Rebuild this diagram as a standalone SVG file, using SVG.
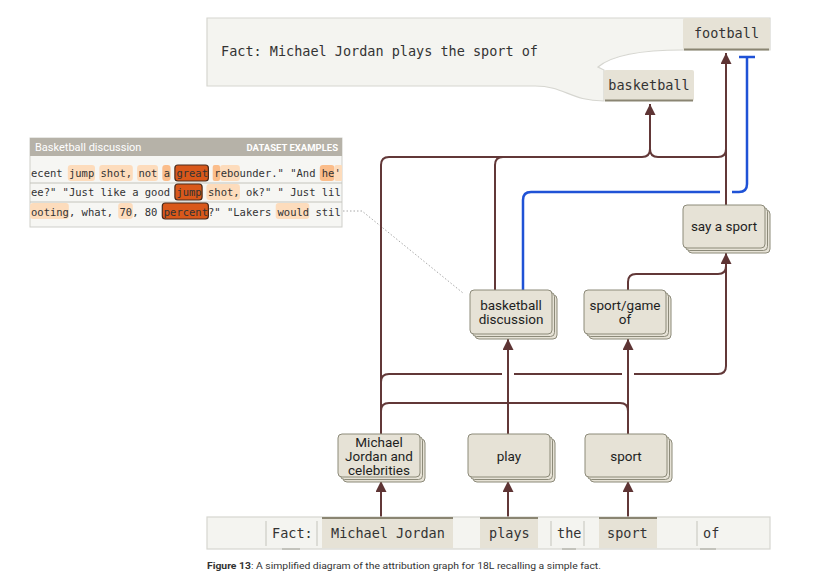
<svg xmlns="http://www.w3.org/2000/svg" width="813" height="577" viewBox="0 0 813 577">
<defs>
<marker id="arr" markerUnits="userSpaceOnUse" markerWidth="11" markerHeight="11" viewBox="0 0 10 10" refX="10" refY="5" orient="auto"><path d="M0,0 L10,5 L0,10 z" fill="#5e3434"/></marker>
<clipPath id="dsclip"><rect x="30" y="156" width="312" height="70"/></clipPath>
</defs>
<style>
.conn{fill:none;stroke:#623838;stroke-width:2}
.blue{fill:none;stroke:#1f52d6;stroke-width:2.5}
.card{fill:#e6e2d6;stroke:#8c8a79;stroke-width:1}
.lbl{font-family:Roboto,"Liberation Sans",sans-serif;font-size:13.5px;fill:#1e1e1e;text-anchor:middle}
.mono{font-family:"DejaVu Sans Mono","Liberation Mono",monospace;font-size:13.5px;fill:#333}
.ds{font-family:"DejaVu Sans Mono","Liberation Mono",monospace;font-size:10.5px;fill:#333}
.tab{fill:#e6e2d6}
.tabline{stroke:#8a8572;stroke-width:2}
.lt{fill:#fddcbc}
.md{fill:#fbbd8a}
.dk{fill:#d9581a;stroke:#4a2a1a;stroke-width:1.2}
.sep{stroke:#c4c4bc;stroke-width:1}
</style>

<!-- Top fact box -->
<g id="fact-output">
<path d="M207,18 H770 V50 H683 C640,50 612,55 598,67 L604,70 V101 C570,101 565,86 535,86 H207 Z" fill="#f4f4f0" stroke="#d6d6d0" stroke-width="1.2"/>
<text class="mono" x="221" y="56">Fact: Michael Jordan plays the sport of</text>
<rect class="tab" x="683" y="18" width="87" height="32" rx="2"/>
<line class="tabline" x1="684" y1="49.5" x2="769" y2="49.5"/>
<text class="mono" x="726.5" y="38" text-anchor="middle">football</text>
<rect class="tab" x="604" y="70" width="90" height="31" rx="2"/>
<line class="tabline" x1="605" y1="100.5" x2="693" y2="100.5"/>
<text class="mono" x="649" y="90" text-anchor="middle">basketball</text>
</g>

<!-- Dataset examples panel -->
<g id="dataset-examples">
<rect x="30" y="138" width="312" height="89" fill="#f6f6f3" stroke="#cfcfca" stroke-width="1"/>
<rect x="30" y="138" width="312" height="18" fill="#b6b2a8"/>
<text x="35" y="151" font-family="Roboto,'Liberation Sans',sans-serif" font-size="11" fill="#ffffff">Basketball discussion</text>
<text x="338" y="151" font-family="Roboto,'Liberation Sans',sans-serif" font-size="9.5" font-weight="bold" fill="#ffffff" text-anchor="end">DATASET EXAMPLES</text>
<line class="sep" x1="30" y1="183" x2="342" y2="183"/>
<line class="sep" x1="30" y1="202" x2="342" y2="202"/>
<g clip-path="url(#dsclip)">
<rect class="lt" x="67.8" y="165" width="27.2" height="16" rx="3"/>
<rect class="lt" x="99.3" y="165" width="33.5" height="16" rx="3"/>
<rect class="lt" x="137.1" y="165" width="20.9" height="16" rx="3"/>
<rect class="md" x="162.3" y="165" width="8.3" height="16" rx="3"/>
<rect class="dk" x="174.9" y="165" width="33.5" height="16" rx="3"/>
<rect class="md" x="212.7" y="165" width="7.3" height="16" rx="2"/>
<rect class="lt" x="220" y="165" width="19.9" height="16" rx="3"/>
<rect class="md" x="319.8" y="165" width="14.6" height="16" rx="3"/>
<rect class="lt" x="334.4" y="165" width="8" height="16" rx="2"/>
<text class="ds" x="31" y="177">ecent jump shot, not a great rebounder." "And he'</text>
<rect class="dk" x="174.9" y="184" width="27.2" height="16" rx="3"/>
<rect class="lt" x="206.4" y="184" width="33.5" height="16" rx="3"/>
<text class="ds" x="31" y="196">ee?" "Just like a good jump shot, ok?" " Just lil</text>
<rect class="lt" x="30" y="203" width="38.8" height="16" rx="3"/>
<rect class="lt" x="118.2" y="203" width="14.6" height="16" rx="3"/>
<rect class="dk" x="162.3" y="203" width="46.1" height="16" rx="3"/>
<rect class="lt" x="275.7" y="203" width="33.5" height="16" rx="3"/>
<text class="ds" x="31" y="215.5">ooting, what, 70, 80 percent?" "Lakers would stil</text>
</g>
</g>

<!-- Connectors -->
<g id="connectors">
<path d="M343,211 H362 L463,293" fill="none" stroke="#a8a8a8" stroke-width="1" stroke-dasharray="1.5,2"/>
<path class="conn" d="M381,517 V481" marker-end="url(#arr)"/>
<path class="conn" d="M508,517 V481" marker-end="url(#arr)"/>
<path class="conn" d="M628,517 V481" marker-end="url(#arr)"/>
<path class="conn" d="M508,434 V339" marker-end="url(#arr)"/>
<path class="conn" d="M628,434 V339" marker-end="url(#arr)"/>
<path class="conn" d="M381,411 Q381,403 389,403 H620 Q628,403 628,411"/>
<path class="conn" d="M381,382 Q381,374 389,374 H502"/>
<path class="conn" d="M514,374 H622"/>
<path class="conn" d="M634,374 H718 Q726,374 726,366 V253" marker-end="url(#arr)"/>
<path class="conn" d="M628,290 V282 Q628,274 636,274 H718 Q726,274 726,266"/>
<path class="conn" d="M381,434 V165 Q381,157 389,157 H642 Q650,157 650,149 V104" marker-end="url(#arr)"/>
<path class="conn" d="M495,290 V165 Q495,157 503,157"/>
<path class="conn" d="M650,149 Q650,157 658,157 H718 Q726,157 726,149"/>
<path class="conn" d="M726,205 V53" marker-end="url(#arr)"/>
<path class="blue" d="M523,290 V200 Q523,192 531,192 H720"/>
<path class="blue" d="M732,192 H739 Q747,192 747,184 V57"/>
<path class="blue" d="M739,57 H755"/>
</g>

<!-- Nodes -->
<g id="node-basketball-discussion">
<rect class="card" x="475" y="295" width="82" height="44" rx="4"/>
<rect class="card" x="472.5" y="292.5" width="82" height="44" rx="4"/>
<rect class="card" x="470" y="290" width="82" height="44" rx="4"/>
<text class="lbl" x="511" y="310">basketball</text>
<text class="lbl" x="511" y="324">discussion</text>
</g>
<g id="node-sport-game-of">
<rect class="card" x="589" y="295" width="82" height="44" rx="4"/>
<rect class="card" x="586.5" y="292.5" width="82" height="44" rx="4"/>
<rect class="card" x="584" y="290" width="82" height="44" rx="4"/>
<text class="lbl" x="625" y="310">sport/game</text>
<text class="lbl" x="625" y="324">of</text>
</g>
<g id="node-say-a-sport">
<rect class="card" x="688" y="210" width="82" height="43" rx="4"/>
<rect class="card" x="685.5" y="207.5" width="82" height="43" rx="4"/>
<rect class="card" x="683" y="205" width="82" height="43" rx="4"/>
<text class="lbl" x="724" y="231">say a sport</text>
</g>
<g id="node-michael-jordan">
<rect class="card" x="343" y="439" width="82" height="43" rx="4"/>
<rect class="card" x="340.5" y="436.5" width="82" height="43" rx="4"/>
<rect class="card" x="338" y="434" width="82" height="43" rx="4"/>
<text class="lbl" x="379" y="447">Michael</text>
<text class="lbl" x="379" y="461">Jordan and</text>
<text class="lbl" x="379" y="475">celebrities</text>
</g>
<g id="node-play">
<rect class="card" x="473" y="439" width="82" height="43" rx="4"/>
<rect class="card" x="470.5" y="436.5" width="82" height="43" rx="4"/>
<rect class="card" x="468" y="434" width="82" height="43" rx="4"/>
<text class="lbl" x="509" y="461">play</text>
</g>
<g id="node-sport">
<rect class="card" x="590" y="439" width="82" height="43" rx="4"/>
<rect class="card" x="587.5" y="436.5" width="82" height="43" rx="4"/>
<rect class="card" x="585" y="434" width="82" height="43" rx="4"/>
<text class="lbl" x="626" y="461">sport</text>
</g>

<!-- Token bar -->
<g id="token-bar">
<rect x="207" y="517" width="563" height="32" fill="#f4f4f0" stroke="#d6d6d0" stroke-width="1.2"/>
<rect class="tab" x="322" y="518" width="131" height="30"/>
<line class="tabline" x1="322" y1="518" x2="453" y2="518"/>
<rect class="tab" x="480" y="518" width="58" height="30"/>
<line class="tabline" x1="480" y1="518" x2="538" y2="518"/>
<rect class="tab" x="599" y="518" width="58" height="30"/>
<line class="tabline" x1="599" y1="518" x2="657" y2="518"/>
<line class="sep" x1="266" y1="521" x2="266" y2="546"/>
<line class="sep" x1="317" y1="521" x2="317" y2="546"/>
<line class="sep" x1="551" y1="521" x2="551" y2="546"/>
<line class="sep" x1="584" y1="521" x2="584" y2="546"/>
<line class="sep" x1="697" y1="521" x2="697" y2="546"/>
<line x1="282" y1="549" x2="300" y2="549" stroke="#b8b8b0" stroke-width="1.5"/>
<line x1="562" y1="549" x2="576" y2="549" stroke="#b8b8b0" stroke-width="1.5"/>
<line x1="700" y1="549" x2="716" y2="549" stroke="#b8b8b0" stroke-width="1.5"/>
<text class="mono" x="272" y="538">Fact:</text>
<text class="mono" x="331" y="538">Michael Jordan</text>
<text class="mono" x="489" y="538">plays</text>
<text class="mono" x="557" y="538">the</text>
<text class="mono" x="607" y="538">sport</text>
<text class="mono" x="703" y="538">of</text>
</g>

<text x="207" y="569" font-family="Roboto,'Liberation Sans',sans-serif" font-size="9.5" fill="#333" textLength="394" lengthAdjust="spacingAndGlyphs"><tspan font-weight="bold">Figure 13</tspan>: A simplified diagram of the attribution graph for 18L recalling a simple fact.</text>
</svg>
